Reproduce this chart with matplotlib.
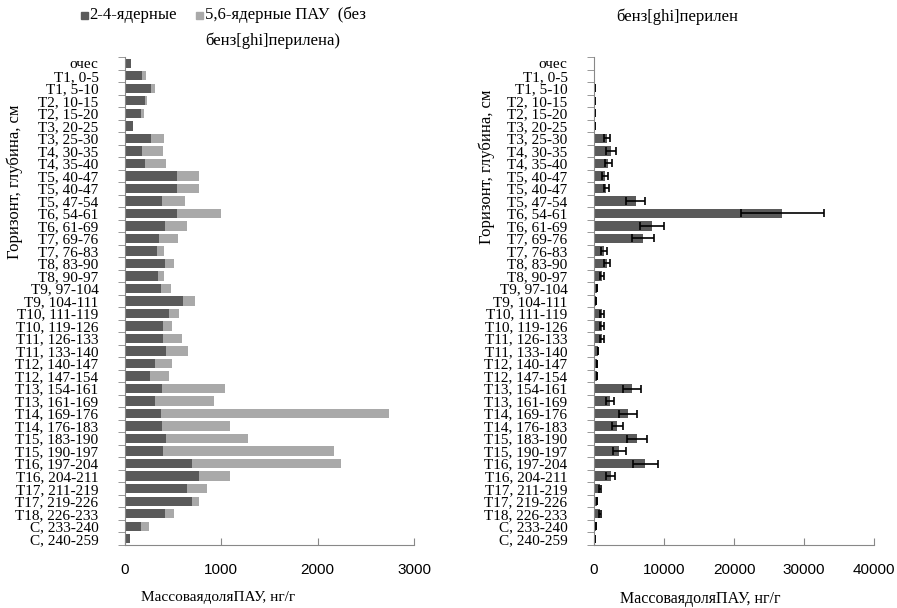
import numpy as np
import matplotlib.pyplot as plt
from matplotlib.patches import Rectangle

plt.rcParams['font.family'] = ['Liberation Serif', 'DejaVu Serif']

# Horizons / depths (top to bottom)
labels = ["очес", "T1, 0-5", "T1, 5-10", "T2, 10-15", "T2, 15-20", "T3, 20-25",
          "T3, 25-30", "T4, 30-35", "T4, 35-40", "T5, 40-47", "T5, 40-47",
          "T5, 47-54", "T6, 54-61", "T6, 61-69", "T7, 69-76", "T7, 76-83",
          "T8, 83-90", "T8, 90-97", "T9, 97-104", "T9, 104-111", "T10, 111-119",
          "T10, 119-126", "T11, 126-133", "T11, 133-140", "T12, 140-147",
          "T12, 147-154", "T13, 154-161", "T13, 161-169", "T14, 169-176",
          "T14, 176-183", "T15, 183-190", "T15, 190-197", "T16, 197-204",
          "T16, 204-211", "T17, 211-219", "T17, 219-226", "T18, 226-233",
          "C, 233-240", "C, 240-259"]

# 2-4 ring PAH, ng/g
pah_24 = [65, 180, 274, 208, 166, 80, 274, 180, 208, 538, 538, 385, 538, 413,
          357, 333, 413, 347, 372, 604, 455, 399, 399, 427, 316, 264, 385, 316,
          372, 385, 427, 399, 698, 767, 642, 698, 413, 166, 52]
# 5,6 ring PAH (without benzo[ghi]perylene), ng/g
pah_56 = [0, 42, 41, 24, 28, 0, 132, 216, 216, 226, 226, 243, 459, 229, 192,
          77, 94, 63, 107, 118, 108, 91, 188, 229, 174, 188, 653, 611, 2373,
          705, 854, 1771, 1547, 323, 205, 69, 94, 81, 0]
# benzo[ghi]perylene and its error
bghip = [0, 0, 150, 150, 150, 150, 1860, 2430, 2020, 1570, 1760, 5950, 26900,
         8300, 6950, 1430, 1860, 1190, 430, 240, 1170, 1170, 1170, 570, 430,
         430, 5380, 2300, 4850, 3330, 6130, 3600, 7350, 2370, 860, 430, 860,
         240, 100]
bghip_err = [0, 0, 0, 0, 0, 0, 480, 670, 500, 380, 380, 1360, 5930, 1760,
             1570, 380, 480, 290, 0, 0, 260, 260, 260, 0, 0, 0, 1290, 600,
             1240, 760, 1450, 900, 1740, 640, 190, 0, 210, 0, 0]

dark = "#5a5a5a"
light = "#a9a9a9"
axis_col = "#888888"

fig = plt.figure(figsize=(8.97, 6.08), dpi=100)
ax1 = fig.add_axes([125 / 897, 1 - 545 / 608, 289 / 897, 488 / 608])
ax2 = fig.add_axes([594 / 897, 1 - 545 / 608, 280 / 897, 488 / 608])

y = np.arange(len(labels))

ax1.barh(y, pah_24, height=0.75, color=dark)
ax1.barh(y, pah_56, left=pah_24, height=0.75, color=light)
ax1.set_xlim(0, 3000)
ax1.set_xticks([0, 1000, 2000, 3000])

ax2.barh(y, bghip, height=0.75, color=dark,
         xerr=bghip_err, error_kw=dict(ecolor="black", elinewidth=1.2,
                                       capsize=3, capthick=1.2))
ax2.set_xlim(0, 40000)
ax2.set_xticks([0, 10000, 20000, 30000, 40000])

for ax in (ax1, ax2):
    ax.set_ylim(len(labels) - 0.5, -0.5)
    ax.set_yticks(y)
    ax.set_yticklabels(labels, fontsize=11)
    ax.set_yticks(np.arange(len(labels) + 1) - 0.5, minor=True)
    ax.tick_params(axis="y", which="major", length=0, pad=19)
    ax.tick_params(axis="y", which="minor", length=5, color=axis_col, direction="out")
    ax.tick_params(axis="x", length=5, color=axis_col, direction="in", pad=13,
                   labelsize=11)
    for side in ("top", "right"):
        ax.spines[side].set_visible(False)
    for side in ("left", "bottom"):
        ax.spines[side].set_color(axis_col)
    for t in ax.get_xticklabels():
        t.set_family(["Liberation Sans Narrow", "Liberation Sans", "DejaVu Sans"])

# Legend drawn by hand (Excel-like, top aligned)
sq = 7
fig.patches.append(Rectangle((81 / 897, 1 - 19 / 608), sq / 897, sq / 608,
                             transform=fig.transFigure, color=dark))
fig.text(89 / 897, 1 - 15 / 608, "2-4-ядерные", ha="left", va="center",
         fontsize=12)
fig.patches.append(Rectangle((196 / 897, 1 - 19 / 608), sq / 897, sq / 608,
                             transform=fig.transFigure, color=light))
fig.text(205 / 897, 1 - 15 / 608, "5,6-ядерные ПАУ  (без", ha="left",
         va="center", fontsize=12)
fig.text(205 / 897, 1 - 41 / 608, "бенз[ghi]перилена)", ha="left",
         va="center", fontsize=12)

fig.text(677 / 897, 1 - 17 / 608, "бенз[ghi]перилен", ha="center", va="center",
         fontsize=12)

fig.text(218 / 897, 1 - 597 / 608, "МассоваядоляПАУ, нг/г", ha="center",
         va="center", fontsize=11)
fig.text(700 / 897, 1 - 599 / 608, "МассоваядоляПАУ, нг/г", ha="center",
         va="center", fontsize=11.5)
fig.text(15 / 897, 1 - 182 / 608, "Горизонт, глубина, см", rotation=90,
         ha="center", va="center", fontsize=12)
fig.text(487 / 897, 1 - 167 / 608, "Горизонт, глубина, см", rotation=90,
         ha="center", va="center", fontsize=12)

fig.savefig("out.png", dpi=100)
